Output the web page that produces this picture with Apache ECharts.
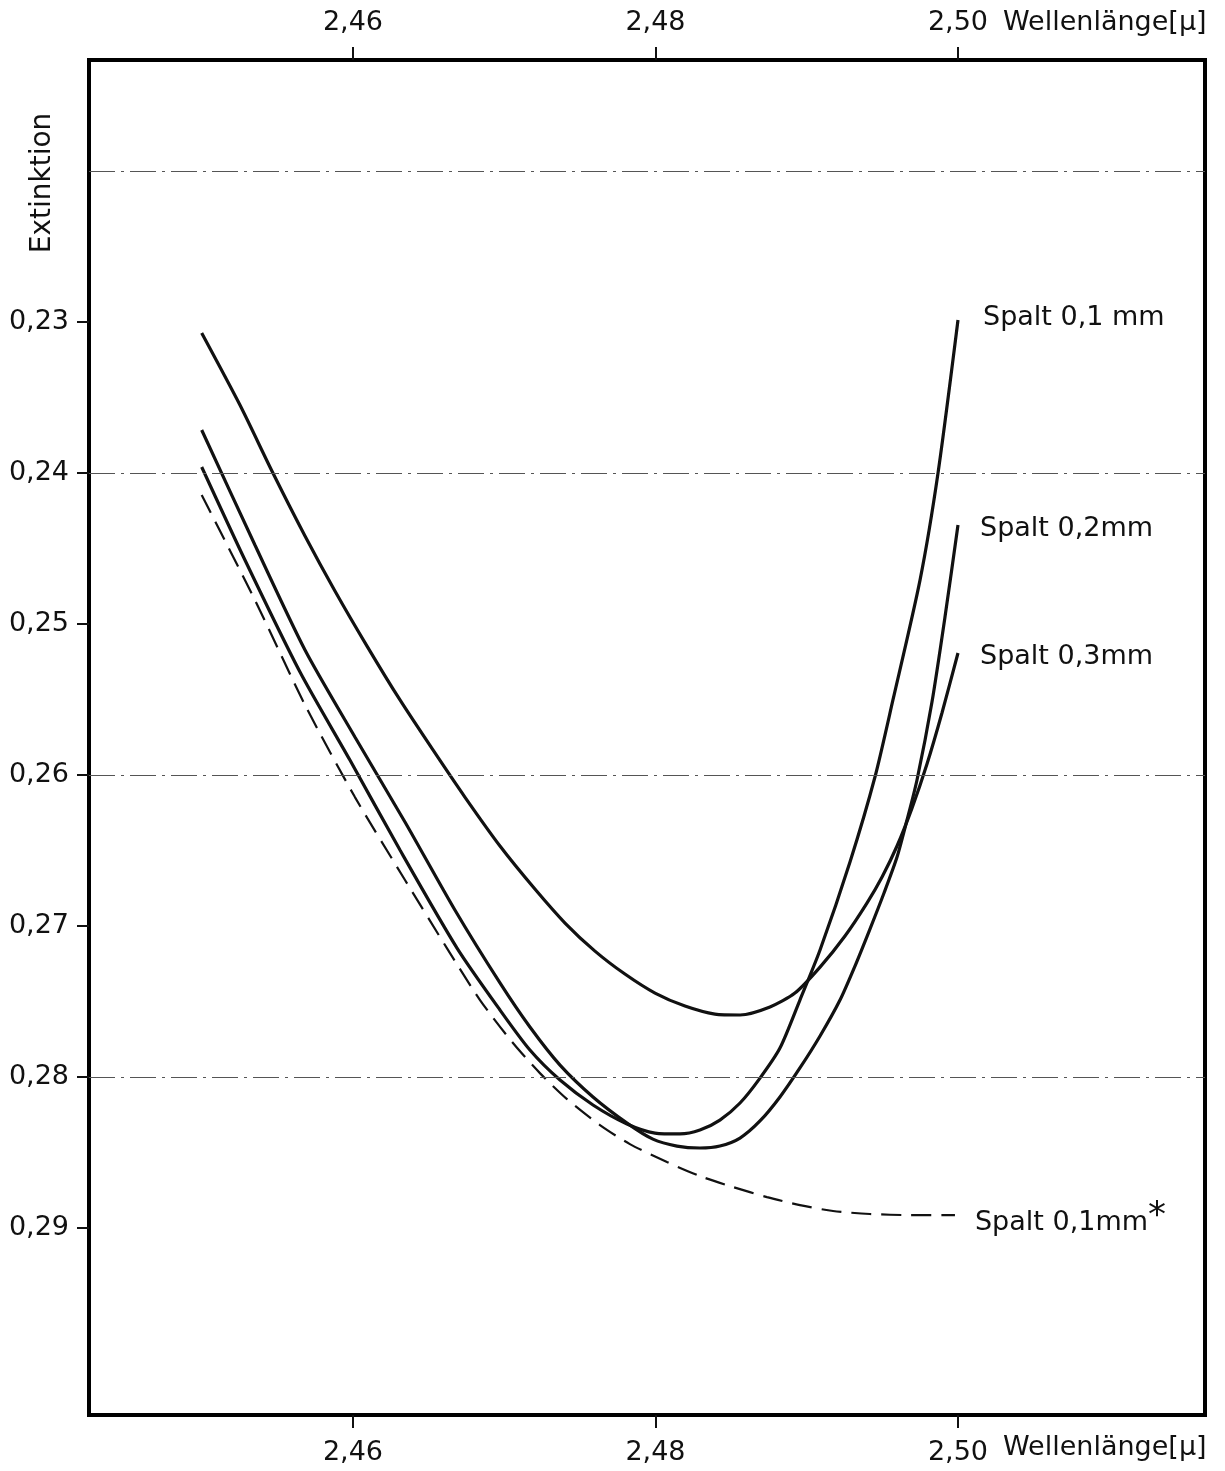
<!DOCTYPE html>
<html>
<head>
<meta charset="utf-8">
<script src="https://cdn.jsdelivr.net/npm/echarts@6/dist/echarts.min.js"></script>
<style>
html,body{margin:0;padding:0;background:#fff;}
#chart{width:1225px;height:1471px;}
</style>
</head>
<body>
<div id="chart"></div>
<script>
// ---- data ----
const xTicks = [2.46, 2.48, 2.50];
const yTicks = [0.23, 0.24, 0.25, 0.26, 0.27, 0.28, 0.29];
const gridLineValues = [0.22, 0.24, 0.26, 0.28];

const spalt01_x = [2.45000, 2.45286, 2.45650, 2.45980, 2.46311, 2.46688, 2.46972, 2.47170, 2.47369, 2.47587, 2.47812, 2.47997, 2.48162, 2.48294, 2.48426, 2.48559, 2.48691, 2.48823, 2.48955, 2.49088, 2.49286, 2.49451, 2.49570, 2.49749, 2.49868, 2.50000];
const spalt01_y = [0.23960, 0.24576, 0.25318, 0.25901, 0.26497, 0.27146, 0.27556, 0.27821, 0.28020, 0.28185, 0.28311, 0.28371, 0.28377, 0.28351, 0.28285, 0.28172, 0.28007, 0.27808, 0.27490, 0.27159, 0.26576, 0.26013, 0.25503, 0.24709, 0.24000, 0.22987];

const spalt02_x = [2.45000, 2.45352, 2.45683, 2.46013, 2.46344, 2.46674, 2.46972, 2.47170, 2.47369, 2.47587, 2.47812, 2.47983, 2.48142, 2.48294, 2.48426, 2.48559, 2.48691, 2.48823, 2.48955, 2.49088, 2.49220, 2.49319, 2.49418, 2.49511, 2.49597, 2.49663, 2.49729, 2.49828, 2.49914, 2.50000];
const spalt02_y = [0.23715, 0.24477, 0.25172, 0.25748, 0.26311, 0.26894, 0.27377, 0.27669, 0.27921, 0.28132, 0.28305, 0.28411, 0.28457, 0.28470, 0.28457, 0.28404, 0.28291, 0.28132, 0.27940, 0.27728, 0.27490, 0.27265, 0.27020, 0.26781, 0.26543, 0.26298, 0.26033, 0.25517, 0.24954, 0.24344];

const spalt03_x = [2.45000, 2.45253, 2.45471, 2.45683, 2.45881, 2.46093, 2.46311, 2.46529, 2.46740, 2.46972, 2.47203, 2.47402, 2.47600, 2.47798, 2.47997, 2.48195, 2.48393, 2.48559, 2.48757, 2.48922, 2.49088, 2.49253, 2.49398, 2.49498, 2.49597, 2.49696, 2.49795, 2.49894, 2.50000];
const spalt03_y = [0.23073, 0.23550, 0.24000, 0.24417, 0.24781, 0.25146, 0.25503, 0.25834, 0.26146, 0.26470, 0.26755, 0.26980, 0.27166, 0.27318, 0.27444, 0.27530, 0.27583, 0.27589, 0.27536, 0.27444, 0.27272, 0.27066, 0.26848, 0.26675, 0.26470, 0.26219, 0.25927, 0.25589, 0.25192];

const spalt01s_x = [2.45000, 2.45352, 2.45683, 2.46013, 2.46344, 2.46621, 2.46840, 2.47058, 2.47236, 2.47415, 2.47633, 2.47831, 2.48076, 2.48294, 2.48512, 2.48737, 2.48955, 2.49174, 2.49418, 2.49683, 2.49980];
const spalt01s_y = [0.24146, 0.24841, 0.25536, 0.26146, 0.26695, 0.27146, 0.27490, 0.27775, 0.27974, 0.28146, 0.28318, 0.28444, 0.28563, 0.28656, 0.28728, 0.28795, 0.28848, 0.28887, 0.28907, 0.28914, 0.28914];

const seriesNames = ['Spalt 0,1 mm', 'Spalt 0,2mm', 'Spalt 0,3mm', 'Spalt 0,1mm*'];

// ---- build ----
const zip = (xs, ys) => xs.map((x, i) => [x, ys[i]]);
const FONT = 'DejaVu Sans';
const INK = '#111';
const xMin = 2.44255, xMax = 2.51633;
const yMin = 0.21265, yMax = 0.30238;
const fmt = v => v.toFixed(2).replace('.', ',');

function xAxis(pos) {
  return {
    type: 'value', position: pos, min: xMin, max: xMax,
    axisLine: { show: false },
    splitLine: { show: false },
    axisTick: { show: true, customValues: xTicks, length: 13, lineStyle: { color: INK, width: 2 } },
    axisLabel: { customValues: xTicks, formatter: fmt, margin: 24, fontSize: 27, fontFamily: FONT, color: INK }
  };
}

function endLabel(text, dx, dy) {
  return { show: true, formatter: text, offset: [dx, dy], fontSize: 27, fontFamily: FONT, color: INK };
}

function lineSeries(name, data, extra) {
  return Object.assign({
    name: name, type: 'line', data: data, smooth: 0.25, symbol: 'none',
    lineStyle: { color: INK, width: 3.2 },
    z: 3
  }, extra || {});
}

const chart = echarts.init(document.getElementById('chart'), null, { renderer: 'canvas' });
chart.setOption({
  backgroundColor: '#fff',
  animation: false,
  grid: { left: 89, right: 20, top: 60, bottom: 56, show: true, borderColor: '#000', borderWidth: 4, backgroundColor: 'transparent' },
  xAxis: [xAxis('bottom'), xAxis('top')],
  yAxis: {
    type: 'value', inverse: true, min: yMin, max: yMax,
    axisLine: { show: false },
    splitLine: { show: false },
    axisTick: { show: true, customValues: yTicks, length: 12, lineStyle: { color: INK, width: 2 } },
    axisLabel: { customValues: yTicks, formatter: fmt, margin: 20, fontSize: 27, fontFamily: FONT, color: INK }
  },
  graphic: [
    { type: 'text', x: 43, y: 183, rotation: Math.PI / 2,
      style: { text: 'Extinktion', fontSize: 28, fontFamily: FONT, fill: INK, align: 'center', verticalAlign: 'middle' } },
    { type: 'text', x: 1003, y: 23,
      style: { text: 'Wellenlänge[μ]', fontSize: 27, fontFamily: FONT, fill: INK, align: 'left', verticalAlign: 'middle' } },
    { type: 'text', x: 1003, y: 1448,
      style: { text: 'Wellenlänge[μ]', fontSize: 27, fontFamily: FONT, fill: INK, align: 'left', verticalAlign: 'middle' } }
  ],
  series: [
    lineSeries(seriesNames[0], zip(spalt01_x, spalt01_y), {
      endLabel: endLabel(seriesNames[0], 17, -2),
      markLine: {
        silent: true, symbol: 'none', label: { show: false },
        lineStyle: { color: '#555', width: 1, type: [26, 6, 3, 6] },
        data: gridLineValues.map(v => ({ yAxis: v }))
      }
    }),
    lineSeries(seriesNames[1], zip(spalt02_x, spalt02_y), {
      endLabel: endLabel(seriesNames[1], 14, 4)
    }),
    lineSeries(seriesNames[2], zip(spalt03_x, spalt03_y), {
      endLabel: endLabel(seriesNames[2], 14, 4)
    }),
    lineSeries(seriesNames[3], zip(spalt01s_x, spalt01s_y), {
      lineStyle: { color: INK, width: 2.2, type: [20, 10] },
      endLabel: {
        show: true, offset: [12, 8], fontSize: 27, fontFamily: FONT, color: INK,
        formatter: '{a|Spalt 0,1mm}{s|*}',
        rich: { a: { fontSize: 27, fontFamily: FONT, color: INK }, s: { fontSize: 36, fontFamily: FONT, color: INK, padding: [0, 0, 12, 0] } }
      }
    })
  ]
});
</script>
</body>
</html>
